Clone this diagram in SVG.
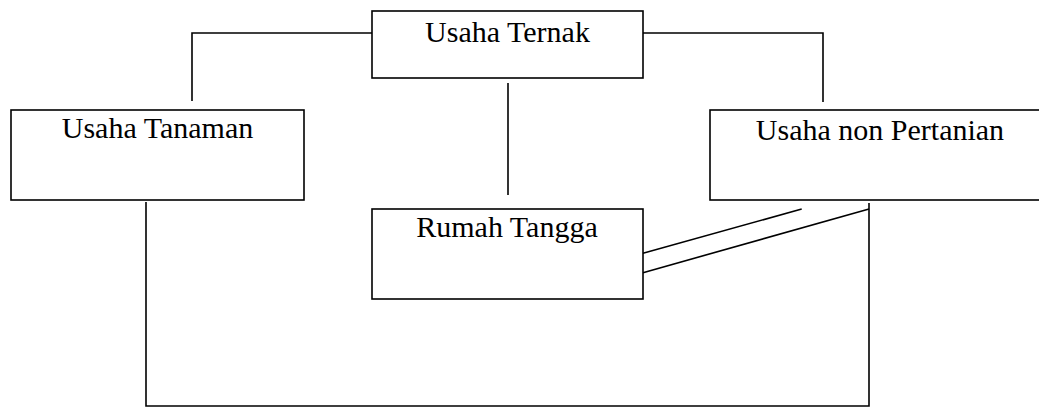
<svg xmlns="http://www.w3.org/2000/svg" width="1039" height="408" viewBox="0 0 1039 408">
<style>
.box{fill:#fff;stroke:#000;stroke-width:1.6}
.lbl{font-family:"Liberation Serif","Times New Roman",serif;font-size:30px;fill:#000;text-anchor:middle}
.ln{fill:none;stroke:#000;stroke-width:1.6}
</style>
<rect width="1039" height="408" fill="#fff"/>
<g id="connectors">
<polyline class="ln" points="372,33 192,33 192,101"/>
<polyline class="ln" points="643,33 823,33 823,102"/>
<line class="ln" x1="508" y1="83" x2="508" y2="195"/>
<polyline class="ln" points="146,202 146,406 869,406 869,203"/>
<line class="ln" x1="643" y1="253.3" x2="801.7" y2="209"/>
<line class="ln" x1="643" y1="272.7" x2="869" y2="209"/>
</g>
<g id="usaha-ternak">
<rect class="box" x="372" y="11" width="271" height="67"/>
<text class="lbl" x="507.5" y="42">Usaha Ternak</text>
</g>
<g id="usaha-tanaman">
<rect class="box" x="11" y="110" width="293" height="90"/>
<text class="lbl" x="157.5" y="138">Usaha Tanaman</text>
</g>
<g id="rumah-tangga">
<rect class="box" x="372" y="209" width="271" height="90"/>
<text class="lbl" x="507" y="237">Rumah Tangga</text>
</g>
<g id="usaha-non-pertanian">
<rect class="box" x="710" y="110" width="340" height="90"/>
<text class="lbl" x="880" y="140">Usaha non Pertanian</text>
</g>
</svg>
